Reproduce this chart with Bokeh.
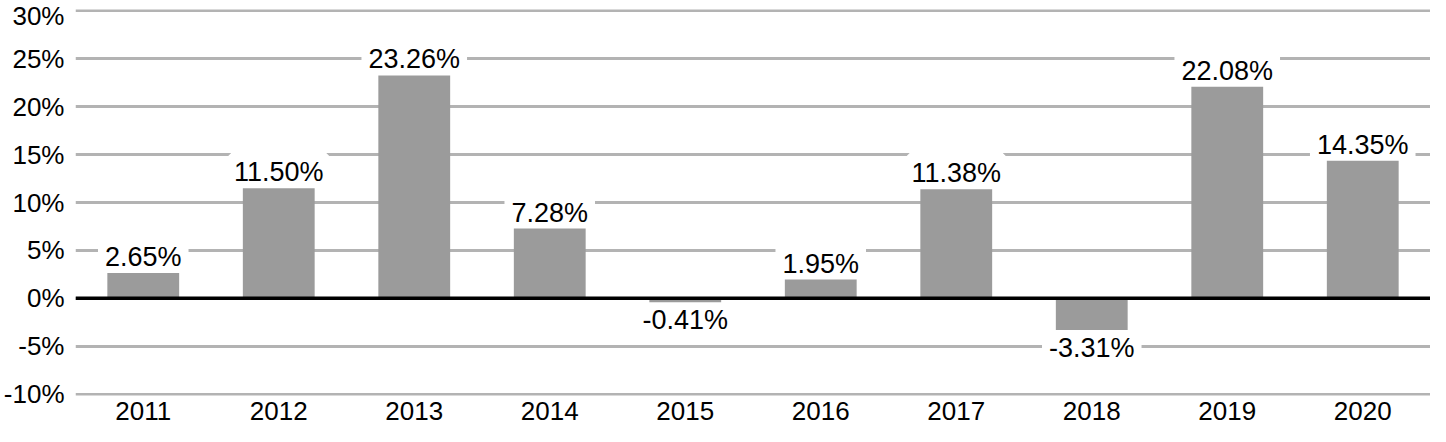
from bokeh.plotting import figure
from bokeh.models import ColumnDataSource, LabelSet, Span, Range1d, FixedTicker, CustomJSTickFormatter
from bokeh.core.properties import value
from bokeh.embed import file_html
from bokeh.resources import INLINE

years = ["2011", "2012", "2013", "2014", "2015", "2016", "2017", "2018", "2019", "2020"]
returns = [2.65, 11.50, 23.26, 7.28, -0.41, 1.95, 11.38, -3.31, 22.08, 14.35]
labels = ["%.2f%%" % v for v in returns]
y_ticks = [-10, -5, 0, 5, 10, 15, 20, 25, 30]

FONT = "Liberation Sans"
FS = "27px"

src_pos = ColumnDataSource(dict(x=[y for y, v in zip(years, returns) if v >= 0],
                                y=[v for v in returns if v >= 0],
                                t=[l for l, v in zip(labels, returns) if v >= 0]))
src_neg = ColumnDataSource(dict(x=[y for y, v in zip(years, returns) if v < 0],
                                y=[v for v in returns if v < 0],
                                t=[l for l, v in zip(labels, returns) if v < 0]))
src = ColumnDataSource(dict(x=years, top=returns))

p = figure(x_range=years, y_range=Range1d(-10.15, 30.15), width=1430, height=426,
           output_backend="svg", toolbar_location=None,
           min_border_left=70, min_border_right=0, min_border_top=9, min_border_bottom=31)
p.outline_line_color = None
p.background_fill_color = "white"

p.ygrid.ticker = FixedTicker(ticks=y_ticks)
p.ygrid.grid_line_color = "#b3b3b3"
p.ygrid.grid_line_width = 3
p.xgrid.grid_line_color = None

lp = LabelSet(x="x", y="y", text="t", source=src_pos, text_align="center",
              text_baseline="alphabetic", y_offset=7, text_font=value(FONT),
              text_font_size=value(FS), text_color="black", level="underlay",
              background_fill_color="white", border_line_color="white", border_line_width=14)
ln = LabelSet(x="x", y="y", text="t", source=src_neg, text_align="center",
              text_baseline="top", y_offset=-3, text_font=value(FONT),
              text_font_size=value(FS), text_color="black", level="underlay",
              background_fill_color="white", border_line_color="white", border_line_width=14)
p.add_layout(lp)
p.add_layout(ln)

p.vbar(x="x", top="top", bottom=0, width=0.53, source=src, color="#9b9b9b", line_color=None)

p.add_layout(Span(location=0, dimension="width", line_color="black", line_width=3.5))

p.yaxis.ticker = FixedTicker(ticks=y_ticks)
p.yaxis.formatter = CustomJSTickFormatter(code="return tick + '%';")
for ax in (p.xaxis[0], p.yaxis[0]):
    ax.axis_line_color = None
    ax.major_tick_line_color = None
    ax.minor_tick_line_color = None
    ax.major_label_text_font = FONT
    ax.major_label_text_font_size = "26px"
    ax.major_label_text_color = "black"
p.yaxis.major_label_standoff = 5
p.xaxis.major_label_standoff = 0

open("out.html", "w").write(file_html(p, INLINE))
